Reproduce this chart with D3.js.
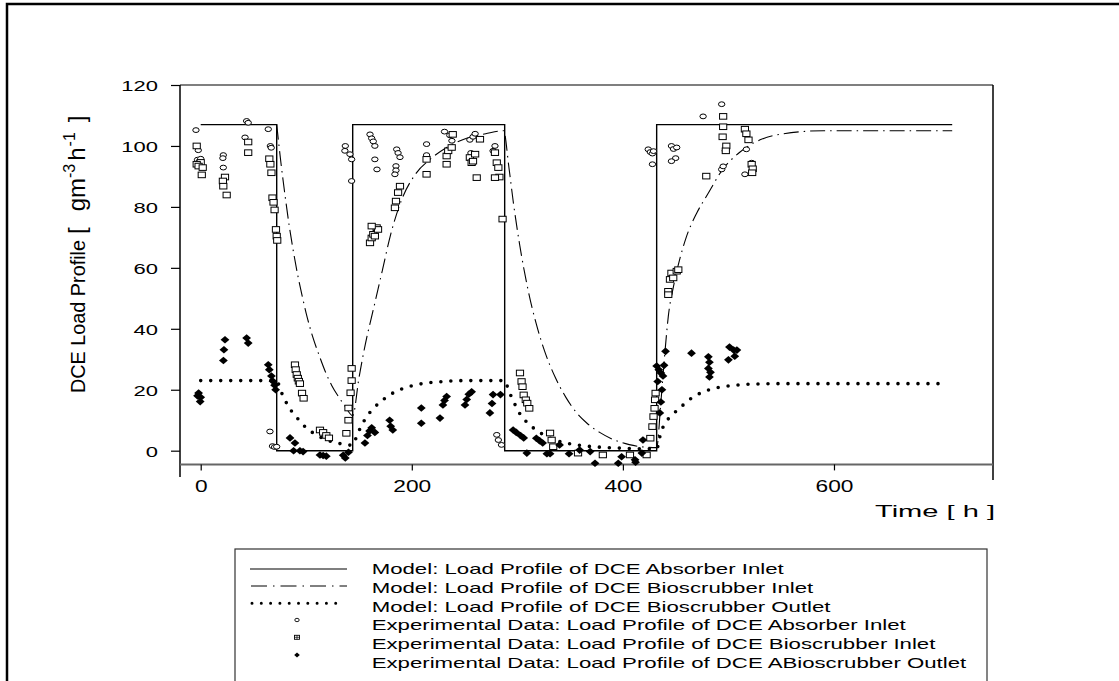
<!DOCTYPE html>
<html>
<head>
<meta charset="utf-8">
<script src="https://cdn.jsdelivr.net/npm/d3@7"></script>
<style>
  html, body { margin: 0; padding: 0; background: #fff; }
  svg { display: block; }
  text { font-family: "Liberation Sans", Arial, Helvetica, sans-serif; fill: #000; }
</style>
</head>
<body>
<svg id="chart" width="1119" height="681"></svg>
<script>
// ---------------- DATA ----------------
const yTicks = [0, 20, 40, 60, 80, 100, 120];
const xTicks = [0, 200, 400, 600];

// Model: absorber inlet (square wave) [time h, load]
const modelAbsorberInlet = [[0,107],[72,107],[72,0],[144,0],[144,107],[288,107],[288,0],[432,0],[432,107],[712,107]];

// Model: bioscrubber inlet (dash-dot)
const modelBioInlet = [
  [72,107],[76,94.5],[80,83.5],[84,73.5],[88,65],[92,57.5],[96,51],[100,45],[106,37.5],[112,31.5],[118,26],[124,21.5],[130,18],[136,15],[144,11.5],
  [150,24],[156,35],[164,47],[172,59],[180,71],[190,82],[204,91],[217,95.5],[233,99.5],[252,102.5],[270,104],[287,105],
  [292,93],[296,82],[302,68],[310,53],[318,41.5],[326,32.5],[336,24],[346,17.5],[356,12.5],[366,9],[378,6],[392,3.5],[406,2],[420,1.2],[432,1],
  [436,16],[440,33],[443,44],[448,54],[454,63],[460,70],[470,78],[480,84],[495,92.5],[511,98],[530,102],[552,104],[590,105],[640,105],[712,105]
];

// Model: bioscrubber outlet (dotted)
const modelBioOutlet = [
  [0,23],[72,23],[76,19.5],[80,16.5],[86,13],[92,10.5],[100,7.5],[108,5.5],[116,4],[124,3],[134,2.2],[144,1.8],
  [148,5],[152,8],[158,11.5],[164,14],[172,16.5],[180,18.5],[190,20.2],[200,21.3],[214,22.2],[230,22.7],[250,23],[288,23],
  [292,19.5],[296,16.5],[300,13.5],[306,10.5],[314,7.8],[322,5.8],[332,4],[344,2.7],[358,1.8],[376,1.2],[400,0.8],[432,0.6],
  [436,6],[440,9],[446,11.5],[454,14],[462,16.5],[470,18.3],[480,19.8],[490,20.7],[505,21.4],[520,21.8],[550,22],[600,22],[650,22],[700,22]
];

// Experimental: absorber inlet (open circles)
const expAbsorberInlet = [
  [-4.5,105.2],[-2.3,98.6],[-3,95.5],[-1,95],[0,95.8],[21.4,97],[21,96],[21.4,92.9],[43.5,108.2],[45,107.6],[42,102.8],
  [64,105.5],[66,100],[66.8,99.4],[65.6,6.3],[68,1.5],[70,1.2],[72,1.3],
  [137,100],[136.6,98.4],[141.4,97.3],[143,95.6],[143,88.5],
  [160.4,103.8],[162,102.5],[163.5,101.5],[165,100],[165,95.6],[167,92.3],
  [185.7,98.9],[187,97.7],[188.8,96.3],[185,93.4],[185,92],[184,90.7],
  [214,100.6],[214,97],[231,104.7],[236,103.5],[238,101.7],[255,102],[258,103],[260,104],[256,97.7],[255,96],[278.8,100],[277,98.4],
  [280.5,5.2],[282,3.5],[285,1.9],
  [424,98.9],[426,98],[428,97.5],[429,98.3],[428,94],
  [446,100],[448,99],[450,96],[446,95],[451,99.5],
  [476,109.7],[493.6,113.7],[493.6,92.3],[495,93.3],[497,98.4],[515.6,90.7],[517,98.9],[522,94.5]
];

// Experimental: bioscrubber inlet (open squares)
const expBioInlet = [
  [-3.8,100],[0,94.6],[-3.8,94],[-2,93.4],[1.9,92.9],[1,90.5],[23,89.8],[21,88.5],[21.4,86.8],[24.6,83.9],[45,101.3],[45,97.8],
  [65,95.8],[66,94],[67,91.2],[68,83],[69,81.5],[70,79],[71.3,72.6],[72,70.4],[72.5,69],
  [89.3,28.2],[90,26.6],[91,25],[92,23.8],[93,22.8],[94,22],[96,18.9],[97.5,17.2],
  [113,6.8],[116,6],[119,5],[121.5,4.2],
  [138,5.7],[140,10],[140,14],[142,19],[143,23],[143,27],
  [160.4,68.2],[162,69.8],[163.5,71],[165,70.4],[166.7,73.2],[168,72.6],[162,73.7],
  [184,79.7],[185,81.9],[187,84.7],[188.8,86.8],
  [214,95.6],[214,90.7],
  [233,96.7],[234.5,98.4],[237.8,99.5],[238.8,103.8],[233,94],
  [255,96.2],[256.7,94.5],[258,95],[260,97.3],[261.5,89.6],[264.6,102.2],
  [278.8,97.8],[280.5,94.5],[282,92.9],[283,89.8],[278.8,89.6],[286,76],
  [302.5,25.5],[304,22.7],[304.9,21],[306,18.3],[308,16.7],[309.4,15.6],[311.3,13.9],
  [331,5.8],[332.5,3.5],[334,1.3],[357.5,-0.8],[381,-1.4],[406.7,-1.4],[422.5,-1.4],
  [426,4.1],[428,7.9],[429,11.2],[430,13.9],[430.5,16.7],[431,18.9],
  [443,52.3],[444.6,56.2],[446,58.3],[447.7,56.7],[451,58.9],[452.5,59.4],[443,51.2],
  [479,90.1],[495,109.7],[495,106.3],[494.5,103],[498,100],[497.5,98.4],[515.6,105.5],[517,104],[519,102],[522,94],[523,92.5],[522.5,91.2]
];

// Experimental: bioscrubber outlet (filled diamonds)
const expBioOutlet = [
  [23,36.4],[22,33.1],[21.5,29.6],[43.5,37],[45,35.3],[-2,18.9],[0,17.5],[-0.5,16.1],[-3,18],
  [64,28.2],[65,26.6],[67,24.5],[68.5,22.8],[70,21.5],[71,20],
  [84.6,4.2],[89.3,2.5],[88,0],[94,0],[97,-0.3],[113,-1.4],[116,-1.6],[119,-1.8],[135,-1.5],[137,-2.4],[140,-0.5],
  [155.6,2.5],[158,5],[160,6.5],[162,7.5],[165,6],
  [179,10],[180,8],[182,6.8],[209,9],[209,14],[226.7,10.7],[229.5,15],[231,16.5],[233,17.8],
  [250.4,15],[252,16.8],[254,18.5],[256.7,19.3],[274,12.4],[276,15.5],[277,18.4],[284,18.4],
  [296,6.8],[299,6],[303,5],[306,4.2],[309,-0.8],[318,4.1],[321,3.3],[324,2.5],[328,-1],[331,-1],
  [340,1.9],[349,-1],[359,0.2],[369,-0.3],[373.6,-4.1],[395.6,-4.1],[398.8,-2],[411.5,-3],[412,-3.8],[418,-0.8],[419,3.5],
  [435,12.4],[436,16],[437,20],[438,24.5],[439,28],[440.4,32.6],[432,27.8],[434,26.6],[436,25.5],[433,22.7],
  [465,32],[481,30.8],[482,29],[481,27],[483,25.7],[482,24.2],[501,34],[505,33],[508,33],[506,31],[500,29.8]
];

const legendLabels = [
  "Model: Load Profile of DCE Absorber Inlet",
  "Model: Load Profile of DCE Bioscrubber Inlet",
  "Model: Load Profile of DCE Bioscrubber Outlet",
  "Experimental Data: Load Profile of DCE Absorber Inlet",
  "Experimental Data: Load Profile of DCE Bioscrubber Inlet",
  "Experimental Data: Load Profile of DCE ABioscrubber Outlet"
];

// ---------------- DRAWING ----------------
const svg = d3.select("#chart");
const x = d3.scaleLinear().domain([-20, 750]).range([179.6, 992.3]);
const y = d3.scaleLinear().domain([-4.5, 120]).range([464.4, 85]);

// outer page frame
svg.append("path").attr("d", "M7,681 V4 H1119").attr("fill", "none").attr("stroke", "#000").attr("stroke-width", 2.5);

// plot frame
svg.append("line").attr("x1", 180).attr("x2", 993).attr("y1", 85).attr("y2", 85).attr("stroke", "#555").attr("stroke-width", 1.5);
svg.append("line").attr("x1", 993).attr("x2", 993).attr("y1", 85).attr("y2", 480).attr("stroke", "#000").attr("stroke-width", 1.5);
svg.append("line").attr("x1", 180).attr("x2", 180).attr("y1", 85).attr("y2", 477).attr("stroke", "#000").attr("stroke-width", 1.5);
svg.append("line").attr("x1", 180).attr("x2", 993).attr("y1", 464.4).attr("y2", 464.4).attr("stroke", "#666").attr("stroke-width", 2);

// axes
const sx = 1.42;
const gy = svg.append("g").attr("transform", "translate(180,0)")
  .call(d3.axisLeft(y).tickValues(yTicks).tickSize(9).tickSizeOuter(0).tickFormat(d3.format("d")));
gy.select(".domain").remove();
gy.selectAll(".tick line").attr("stroke", "#000").attr("stroke-width", 1.2);
gy.selectAll(".tick text").attr("font-size", 15.5).attr("font-family", null)
  .attr("x", -22 / sx).attr("dy", "0.36em").attr("transform", `scale(${sx},1)`);

const gx = svg.append("g").attr("transform", "translate(0,464.4)")
  .call(d3.axisBottom(x).tickValues(xTicks).tickSize(6).tickSizeOuter(0).tickFormat(d3.format("d")));
gx.select(".domain").remove();
gx.selectAll(".tick line").attr("stroke", "#000").attr("stroke-width", 1.2);
gx.selectAll(".tick text").attr("font-size", 16).attr("font-family", null)
  .attr("y", 27.3).attr("dy", 0).attr("transform", `scale(${sx},1)`);

// axis titles
svg.append("text").attr("x", 995).attr("y", 516.5).attr("text-anchor", "end")
  .attr("font-size", 17).attr("textLength", 120).attr("lengthAdjust", "spacingAndGlyphs")
  .text("Time  [ h ]");

// y title: rotated
svg.append("text").attr("transform", "translate(85,393) rotate(-90)")
  .attr("font-size", 21).attr("textLength", 153).attr("lengthAdjust", "spacingAndGlyphs")
  .text("DCE Load Profile");
const yl = svg.append("text").attr("transform", "translate(85,234) rotate(-90)")
  .attr("font-size", 24);
yl.append("tspan").text("[");
yl.append("tspan").attr("dx", 16).text("gm");
yl.append("tspan").attr("font-size", 16).attr("dy", -10).text("-3");
yl.append("tspan").attr("dy", 10).attr("dx", 3).text("h");
yl.append("tspan").attr("font-size", 16).attr("dy", -10).attr("dx", 1).text("-1");
yl.append("tspan").attr("dy", 10).attr("dx", 10).text("]");

// model lines
const line = d3.line().x(d => x(d[0])).y(d => y(d[1]));
const smooth = d3.line().x(d => x(d[0])).y(d => y(d[1])).curve(d3.curveMonotoneX);

svg.append("path").datum(modelAbsorberInlet).attr("d", line)
  .attr("fill", "none").attr("stroke", "#000").attr("stroke-width", 1.4);
svg.append("path").datum(modelBioInlet).attr("d", smooth)
  .attr("fill", "none").attr("stroke", "#000").attr("stroke-width", 1.1)
  .attr("stroke-dasharray", "15,5,1.5,5");
svg.append("path").datum(modelBioOutlet).attr("d", smooth)
  .attr("fill", "none").attr("stroke", "#000").attr("stroke-width", 3.6)
  .attr("stroke-linecap", "round").attr("stroke-dasharray", "0,10");

// markers
svg.append("g").selectAll("ellipse").data(expAbsorberInlet).join("ellipse")
  .attr("cx", d => x(d[0])).attr("cy", d => y(d[1])).attr("rx", 3.2).attr("ry", 2.4)
  .attr("fill", "#fff").attr("stroke", "#000").attr("stroke-width", 1);
svg.append("g").selectAll("rect").data(expBioInlet).join("rect")
  .attr("x", d => x(d[0]) - 3.6).attr("y", d => y(d[1]) - 2.8).attr("width", 7.2).attr("height", 5.6)
  .attr("fill", "#fff").attr("stroke", "#000").attr("stroke-width", 1);
const diamond = (cx, cy, w, h) => `M${cx},${cy - h}L${cx + w},${cy}L${cx},${cy + h}L${cx - w},${cy}Z`;
svg.append("g").selectAll("path").data(expBioOutlet).join("path")
  .attr("d", d => diamond(x(d[0]), y(d[1]), 4.4, 3.8)).attr("fill", "#000");

// legend
const lg = svg.append("g");
lg.append("rect").attr("x", 235).attr("y", 549).attr("width", 752).attr("height", 200)
  .attr("fill", "none").attr("stroke", "#333").attr("stroke-width", 1.2);
const symY = [569, 586, 603.3, 620, 637.3, 655];
lg.append("line").attr("x1", 250).attr("x2", 347).attr("y1", symY[0]).attr("y2", symY[0]).attr("stroke", "#000").attr("stroke-width", 1.2);
lg.append("line").attr("x1", 251).attr("x2", 347).attr("y1", symY[1]).attr("y2", symY[1]).attr("stroke", "#000").attr("stroke-width", 1)
  .attr("stroke-dasharray", "16,6,1.5,6");
lg.append("line").attr("x1", 252).attr("x2", 345).attr("y1", symY[2]).attr("y2", symY[2]).attr("stroke", "#000").attr("stroke-width", 3)
  .attr("stroke-linecap", "round").attr("stroke-dasharray", "0,9.3");
lg.append("ellipse").attr("cx", 297).attr("cy", symY[3]).attr("rx", 2.2).attr("ry", 1.7).attr("fill", "#fff").attr("stroke", "#000").attr("stroke-width", 0.9);
lg.append("rect").attr("x", 294.5).attr("y", symY[4] - 2).attr("width", 5).attr("height", 4).attr("fill", "#fff").attr("stroke", "#000").attr("stroke-width", 0.9);
lg.append("path").attr("d", `M294.5,${symY[4]}H299.5M297,${symY[4]-2}V${symY[4]+2}`).attr("stroke", "#000").attr("stroke-width", 0.7);
lg.append("path").attr("d", diamond(297, symY[5], 2.8, 2.6)).attr("fill", "#000");

const lsx = 1.48;
legendLabels.forEach((s, i) => {
  lg.append("text").attr("transform", `translate(371.7,${574.3 + 18.7 * i}) scale(${lsx},1)`)
    .attr("font-size", 15).text(s);
});
</script>
</body>
</html>
